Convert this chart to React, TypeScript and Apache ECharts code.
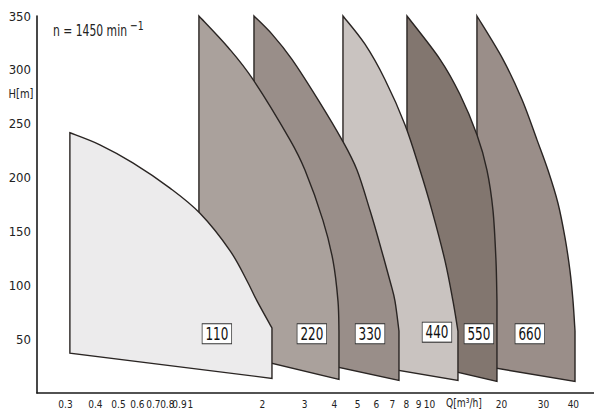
import React, { useEffect, useRef } from 'react';
import * as echarts from 'echarts';

// Q axis tick labels (m³/h, logarithmic)
const Q_TICKS = [0.3, 0.4, 0.5, 0.6, 0.7, 0.8, 0.9, 1, 2, 3, 4, 5, 6, 7, 8, 9, 10, 20, 30, 40];
const Q_TICK_LABELS = ['0.3', '0.4', '0.5', '0.6', '0.7', '0.8', '0.9', '1', '2', '3', '4', '5', '6', '7', '8', '9', '10', '20', '30', '40'];

// Pump sizes
const PUMPS = ['110', '220', '330', '440', '550', '660'];

// Upper limit curve of each range, [Q m³/h, H m], from the top-left corner downwards
const CURVE_110 = [[0.313, 241.6], [0.418, 230.4], [0.574, 213.6], [0.821, 190.2], [1.096, 166.8], [1.463, 132.2], [1.723, 104.2], [1.898, 85.5], [2.193, 60.3]];
const CURVE_220 = [[1.085, 350], [1.435, 321], [1.826, 291.1], [2.609, 235.0], [3.013, 207.0], [3.584, 160.3], [3.948, 122.9], [4.142, 85.5], [4.182, 57.5]];
const CURVE_330 = [[1.844, 350], [2.193, 333.2], [2.659, 309.8], [3.417, 272.4], [4.305, 235.0], [4.974, 207.0], [5.637, 169.6], [6.088, 144.4], [6.833, 104.2], [7.171, 85.5], [7.455, 57.5]];
const CURVE_440 = [[4.346, 350], [5.373, 323.8], [6.512, 291.1], [7.898, 249.1], [9.126, 207.0], [10.24, 169.6], [11.61, 122.9], [12.54, 85.5], [13.16, 57.5]];
const CURVE_550 = [[8.052, 350], [11.07, 309.8], [13.42, 277.1], [15.80, 239.7], [17.40, 207.0], [18.44, 169.6], [18.98, 122.9], [19.16, 85.5]];
const CURVE_660 = [[15.80, 350], [20.30, 309.8], [24.38, 272.4], [28.18, 235.0], [31.31, 207.0], [34.49, 176.2], [36.89, 144.4], [38.71, 113.6], [39.86, 85.5], [40.64, 57.5]];

// Minimum head at the left and right end of each range (m)
const BOTTOM_LEFT_H = [36.9, 43.9, 40.9, 29.8, 30.3, 26.0];
const BOTTOM_RIGHT_H = [13.6, 12.6, 11.7, 11.7, 10.7, 10.7];

// Label anchor of each range, [Q, H]
const LABEL_Q = [1.29, 3.22, 5.64, 10.75, 16.1, 26.3];
const LABEL_H = [55, 55, 55, 56.5, 55, 55];

const CURVES = [CURVE_110, CURVE_220, CURVE_330, CURVE_440, CURVE_550, CURVE_660];
const FILLS = ['#ecebec', '#aaa19c', '#998e89', '#c9c3c0', '#82766f', '#9a8e89'];

const FONT = '"DejaVu Sans Condensed", "Liberation Sans Narrow", "Noto Sans", sans-serif';

function makeRender(i: number) {
  return (params: any, api: any) => {
    const c = CURVES[i];
    const pts = c.map((p) => api.coord(p));
    const bl = api.coord([c[0][0], BOTTOM_LEFT_H[i]]);
    const last = c[c.length - 1];
    const br = api.coord([last[0], BOTTOM_RIGHT_H[i]]);
    let d = `M${bl[0]},${bl[1]} L${pts[0][0]},${pts[0][1]}`;
    for (let k = 0; k < pts.length - 1; k++) {
      const p0 = pts[Math.max(0, k - 1)];
      const p1 = pts[k];
      const p2 = pts[k + 1];
      const p3 = pts[Math.min(pts.length - 1, k + 2)];
      const c1x = p1[0] + (p2[0] - p0[0]) / 6;
      const c1y = p1[1] + (p2[1] - p0[1]) / 6;
      const c2x = p2[0] - (p3[0] - p1[0]) / 6;
      const c2y = p2[1] - (p3[1] - p1[1]) / 6;
      d += ` C${c1x},${c1y} ${c2x},${c2y} ${p2[0]},${p2[1]}`;
    }
    d += ` L${br[0]},${br[1]} Z`;
    const lp = api.coord([api.value(0), api.value(1)]);
    return {
      type: 'group',
      children: [
        {
          type: 'path',
          shape: { pathData: d },
          style: { fill: FILLS[i], stroke: '#2a2523', lineWidth: 1.4, lineJoin: 'miter' },
        },
        {
          type: 'text',
          x: lp[0],
          y: lp[1],
          scaleX: 0.74,
          style: {
            text: PUMPS[i],
            fill: '#111',
            fontSize: 18,
            fontFamily: FONT,
            align: 'center',
            verticalAlign: 'middle',
            backgroundColor: '#ffffff',
            borderColor: '#333',
            borderWidth: 1,
            padding: [1, 4, 0, 4],
          },
        },
      ],
    };
  };
}

export default function App() {
  const ref = useRef<HTMLDivElement>(null);
  useEffect(() => {
    if (!ref.current) return;
    const chart = echarts.init(ref.current, null, { renderer: 'svg' });
    const order = [5, 4, 3, 2, 1, 0];
    chart.setOption({
      animation: false,
      backgroundColor: '#ffffff',
      textStyle: { fontFamily: FONT },
      grid: { left: 37, right: 0, top: 16, bottom: 18, containLabel: false },
      xAxis: {
        type: 'log',
        logBase: 10,
        min: 0.228,
        max: 48.8,
        axisLine: { onZero: false, lineStyle: { color: '#1a1a1a', width: 1.6 } },
        axisTick: { show: false },
        splitLine: { show: false },
        axisLabel: {
          customValues: Q_TICKS,
          color: '#222',
          fontSize: 10,
          margin: 6,
          formatter: (v: number) => {
            let best = 0;
            for (let k = 0; k < Q_TICKS.length; k++) {
              if (Math.abs(Q_TICKS[k] - v) < Math.abs(Q_TICKS[best] - v)) best = k;
            }
            return Q_TICK_LABELS[best];
          },
        },
      },
      yAxis: {
        type: 'value',
        min: 0,
        max: 350,
        interval: 50,
        axisLine: { show: true, onZero: false, lineStyle: { color: '#1a1a1a', width: 1.6 } },
        axisTick: { show: false },
        splitLine: { show: false },
        axisLabel: {
          color: '#222',
          fontSize: 13,
          margin: 6,
          formatter: (v: number) => (v === 0 ? '' : String(v)),
        },
      },
      graphic: [
        {
          type: 'text',
          x: 21,
          y: 94,
          scaleX: 0.85,
          style: { text: 'H[m]', fontSize: 13, fontFamily: FONT, fill: '#222', align: 'center', verticalAlign: 'middle' },
        },
        {
          type: 'text',
          x: 53,
          y: 30,
          scaleX: 0.8,
          style: {
            text: '{a|n = 1450 min}{b| −1}',
            fontFamily: FONT,
            fill: '#222',
            verticalAlign: 'middle',
            rich: {
              a: { fontSize: 15, lineHeight: 22, fontFamily: FONT, fill: '#222' },
              b: { fontSize: 13, verticalAlign: 'top', fontFamily: FONT, fill: '#222' },
            },
          },
        },
        {
          type: 'text',
          x: 464,
          y: 403,
          scaleX: 0.85,
          style: { text: 'Q[m³/h]', fontSize: 12, fontFamily: FONT, fill: '#222', align: 'center', verticalAlign: 'middle' },
        },
      ],
      series: order.map((i) => ({
        type: 'custom',
        name: PUMPS[i],
        renderItem: makeRender(i),
        data: [[LABEL_Q[i], LABEL_H[i]]],
        silent: true,
        clip: false,
        z: 10 - i,
      })),
    });
    return () => chart.dispose();
  }, []);
  return <div ref={ref} style={{ position: 'absolute', left: 0, top: 0, width: 594, height: 411 }} />;
}
